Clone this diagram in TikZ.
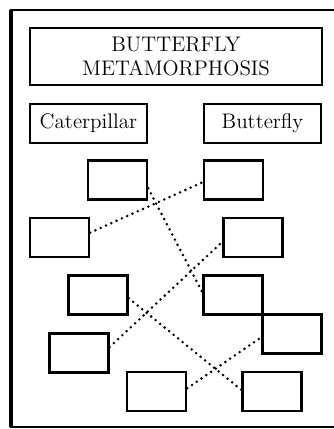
\documentclass[tikz,border=0pt]{standalone}
\usepackage{tikz}
\usetikzlibrary{arrows}

\begin{document}
\begin{tikzpicture}[x=0.02cm,y=-0.02cm,
  every node/.style={draw=black, line width=1.3pt, inner sep=0pt, font=\fontsize{12}{14.2}\selectfont},
  blank/.style={minimum width=1.18cm, minimum height=0.78cm},
  label/.style={minimum width=2.34cm, minimum height=0.78cm},
  dots/.style={line width=1.6pt, dash pattern=on 0pt off 3.3pt, line cap=round}]
\useasboundingbox (0,0) rectangle (334,429);
\draw[line width=1.3pt] (345,10) -| (11,427) -- (345,427);
\draw[line width=2.2pt] (11,10) -- (11,427);

\node[minimum width=5.84cm, minimum height=1.14cm, align=center] (T) at (176,56.5) {BUTTERFLY\\METAMORPHOSIS};
\node[label] (C) at (88.5,123.5) {Caterpillar};
\node[label] (B) at (262.5,123.5) {Butterfly};

\node[blank] (L1) at (117.5,180) {};
\node[blank] (R1) at (233.5,180) {};
\node[blank] (L2) at (59.5,237.5) {};
\node[blank] (R2) at (253,237.5) {};
\node[blank] (L3) at (98,295) {};
\node[blank] (R3) at (233,295) {};
\node[blank] (R4) at (292,334) {};
\node[blank] (L4) at (79,353) {};
\node[blank] (L5) at (156.5,391.5) {};
\node[blank] (R5) at (272,391.5) {};

\draw[dots] (L1.-15) to (R3.175);
\draw[dots] (L2.9) to (R1.184);
\draw[dots] (L4.11) to (R2.188);
\draw[dots] (L3.-6) to (R5.177);
\draw[dots] (L5.6) to (R4.186);
\end{tikzpicture}
\end{document}
